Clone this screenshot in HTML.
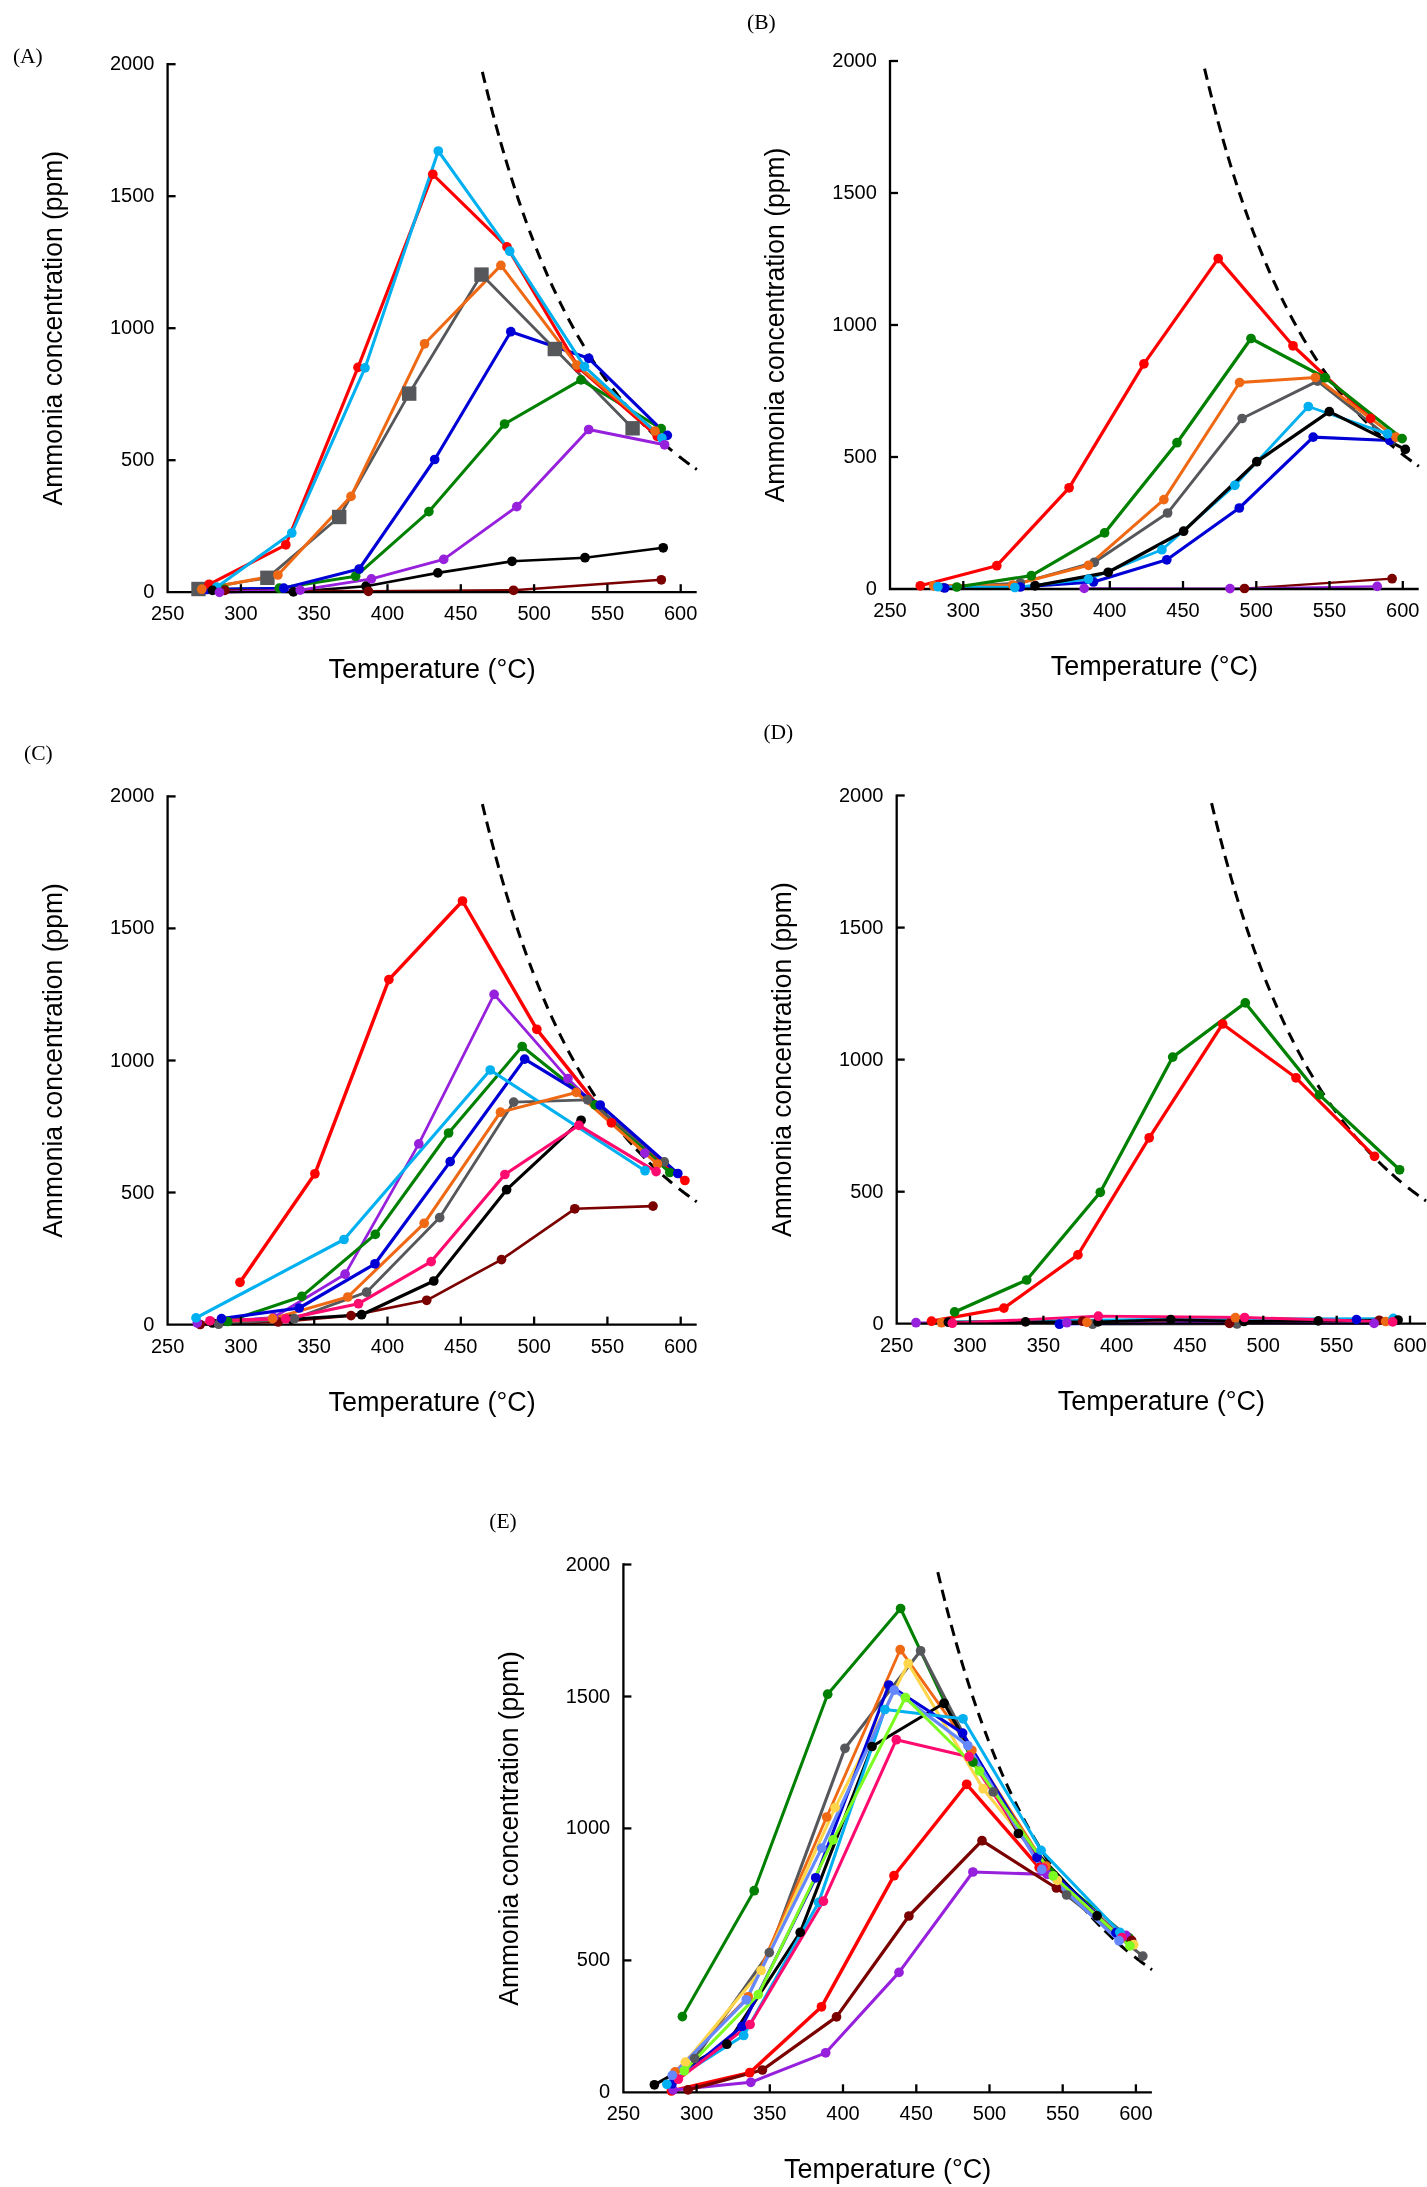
<!DOCTYPE html>
<html><head><meta charset="utf-8"><title>Ammonia concentration vs temperature</title>
<style>
html,body{margin:0;padding:0;background:#fff;}
body{width:1427px;height:2187px;overflow:hidden;}
svg{display:block;will-change:transform;}
.t{font-family:"Liberation Sans",sans-serif;font-size:20px;fill:#000;}
.ti{font-family:"Liberation Sans",sans-serif;font-size:26.8px;fill:#000;}
.pl{font-family:"Liberation Serif",serif;font-size:21.5px;fill:#000;}
</style></head><body>
<svg width="1427" height="2187" viewBox="0 0 1427 2187">
<rect width="1427" height="2187" fill="#fff"/>
<g><path d="M482.37,71.86 L484.16,79.30 L485.95,86.61 L487.73,93.80 L489.52,100.85 L491.31,107.79 L493.10,114.61 L494.88,121.31 L496.67,127.89 L498.46,134.36 L500.25,140.72 L502.03,146.97 L503.82,153.12 L505.61,159.16 L507.40,165.09 L509.18,170.93 L510.97,176.67 L512.76,182.32 L514.55,187.87 L516.33,193.32 L518.12,198.69 L519.91,203.96 L521.69,209.15 L523.48,214.26 L525.27,219.28 L527.06,224.22 L528.84,229.07 L530.63,233.85 L532.42,238.55 L534.21,243.18 L535.99,247.73 L537.78,252.20 L539.57,256.61 L541.36,260.94 L543.14,265.20 L544.93,269.40 L546.72,273.53 L548.51,277.59 L550.29,281.59 L552.08,285.53 L553.87,289.41 L555.66,293.22 L557.44,296.97 L559.23,300.67 L561.02,304.31 L562.81,307.89 L564.59,311.42 L566.38,314.89 L568.17,318.31 L569.96,321.68 L571.74,324.99 L573.53,328.26 L575.32,331.47 L577.10,334.64 L578.89,337.76 L580.68,340.83 L582.47,343.85 L584.25,346.83 L586.04,349.77 L587.83,352.66 L589.62,355.51 L591.40,358.32 L593.19,361.08 L594.98,363.80 L596.77,366.49 L598.55,369.13 L600.34,371.74 L602.13,374.31 L603.92,376.84 L605.70,379.33 L607.49,381.79 L609.28,384.21 L611.07,386.60 L612.85,388.95 L614.64,391.27 L616.43,393.55 L618.22,395.81 L620.00,398.03 L621.79,400.22 L623.58,402.37 L625.37,404.50 L627.15,406.60 L628.94,408.67 L630.73,410.71 L632.51,412.72 L634.30,414.70 L636.09,416.66 L637.88,418.59 L639.66,420.49 L641.45,422.37 L643.24,424.21 L645.03,426.04 L646.81,427.84 L648.60,429.61 L650.39,431.36 L652.18,433.09 L653.96,434.80 L655.75,436.48 L657.54,438.13 L659.33,439.77 L661.11,441.38 L662.90,442.98 L664.69,444.55 L666.48,446.10 L668.26,447.63 L670.05,449.14 L671.84,450.62 L673.63,452.09 L675.41,453.54 L677.20,454.98 L678.99,456.39 L680.78,457.78 L682.56,459.16 L684.35,460.52 L686.14,461.86 L687.92,463.18 L689.71,464.49 L691.50,465.78 L693.29,467.05 L695.07,468.31 L696.86,469.55" fill="none" stroke="#000" stroke-width="3.0" stroke-dasharray="11.40 6.70 11.40 6.70 11.10 7.00 11.50 6.80 11.50 6.80 11.20 7.60 11.20 7.40 10.80 7.50 10.90 8.30 10.60 8.60 11.30 7.90 10.80 7.80 11.30 8.40 11.00 8.30 11.50 7.60 12.50 9.20 11.90 9.60 11.80 8.90 12.40 6.10 12.40 6.10 12.40 6.20 12.40 6.10 12.40 8.70 13.20 6.90 2.10 50.00"/><path d="M198.5,589.0 L267.4,577.8 L339.2,517.0 L409.2,393.6 L481.5,274.6 L554.8,349.0 L632.6,428.3" fill="none" stroke="#56575a" stroke-width="2.85" stroke-linejoin="round"/><path d="M224.5,589.3 L279.3,588.2 L355.6,576.3 L428.9,511.6 L504.6,424.0 L581.0,379.9 L661.2,428.7" fill="none" stroke="#008000" stroke-width="3.05" stroke-linejoin="round"/><path d="M207.3,589.5 L283.8,588.2 L359.2,569.0 L434.7,459.5 L510.8,331.7 L588.7,358.3 L667.3,435.4" fill="none" stroke="#0000d6" stroke-width="3.15" stroke-linejoin="round"/><path d="M209.1,584.3 L285.8,544.8 L358.0,367.4 L432.8,174.3 L507.0,246.9 L578.7,367.8 L657.3,436.4" fill="none" stroke="#ff0000" stroke-width="3.15" stroke-linejoin="round"/><path d="M201.8,589.2 L277.9,575.0 L351.0,496.4 L424.6,343.8 L500.9,265.4 L576.8,365.1 L655.0,431.0" fill="none" stroke="#ef6914" stroke-width="3.05" stroke-linejoin="round"/><path d="M216.6,587.2 L291.8,533.0 L365.0,367.9 L438.3,151.0 L509.7,251.2 L584.5,366.6 L661.9,438.0" fill="none" stroke="#00b0f0" stroke-width="3.05" stroke-linejoin="round"/><path d="M212.5,590.4 L293.4,591.9 L366.0,586.2 L437.8,572.9 L512.0,561.3 L585.0,557.7 L663.2,547.8" fill="none" stroke="#000000" stroke-width="2.65" stroke-linejoin="round"/><path d="M224.8,590.4 L368.4,591.3 L513.5,590.3 L661.3,579.8" fill="none" stroke="#7a0000" stroke-width="2.45" stroke-linejoin="round"/><path d="M219.5,592.3 L300.2,590.1 L371.4,578.9 L443.7,559.4 L516.8,506.6 L588.7,429.5 L664.6,444.8" fill="none" stroke="#9620dc" stroke-width="2.95" stroke-linejoin="round"/><path d="M167.6,63.1 L167.6,592.2 L696.7,592.2" fill="none" stroke="#000" stroke-width="2.3"/><line x1="167.6" y1="460.2" x2="175.6" y2="460.2" stroke="#000" stroke-width="2.3"/><line x1="167.6" y1="328.2" x2="175.6" y2="328.2" stroke="#000" stroke-width="2.3"/><line x1="167.6" y1="196.2" x2="175.6" y2="196.2" stroke="#000" stroke-width="2.3"/><line x1="167.6" y1="64.2" x2="175.6" y2="64.2" stroke="#000" stroke-width="2.3"/><line x1="240.9" y1="592.2" x2="240.9" y2="584.2" stroke="#000" stroke-width="2.3"/><line x1="314.2" y1="592.2" x2="314.2" y2="584.2" stroke="#000" stroke-width="2.3"/><line x1="387.5" y1="592.2" x2="387.5" y2="584.2" stroke="#000" stroke-width="2.3"/><line x1="460.8" y1="592.2" x2="460.8" y2="584.2" stroke="#000" stroke-width="2.3"/><line x1="534.1" y1="592.2" x2="534.1" y2="584.2" stroke="#000" stroke-width="2.3"/><line x1="607.4" y1="592.2" x2="607.4" y2="584.2" stroke="#000" stroke-width="2.3"/><line x1="680.7" y1="592.2" x2="680.7" y2="584.2" stroke="#000" stroke-width="2.3"/><rect x="191.3" y="581.8" width="14.4" height="14.4" fill="#56575a"/><rect x="260.2" y="570.6" width="14.4" height="14.4" fill="#56575a"/><rect x="332.0" y="509.8" width="14.4" height="14.4" fill="#56575a"/><rect x="402.0" y="386.4" width="14.4" height="14.4" fill="#56575a"/><rect x="474.3" y="267.4" width="14.4" height="14.4" fill="#56575a"/><rect x="547.6" y="341.8" width="14.4" height="14.4" fill="#56575a"/><rect x="625.4" y="421.1" width="14.4" height="14.4" fill="#56575a"/><circle cx="224.5" cy="589.3" r="4.85" fill="#008000"/><circle cx="279.3" cy="588.2" r="4.85" fill="#008000"/><circle cx="355.6" cy="576.3" r="4.85" fill="#008000"/><circle cx="428.9" cy="511.6" r="4.85" fill="#008000"/><circle cx="504.6" cy="424.0" r="4.85" fill="#008000"/><circle cx="581.0" cy="379.9" r="4.85" fill="#008000"/><circle cx="661.2" cy="428.7" r="4.85" fill="#008000"/><circle cx="207.3" cy="589.5" r="4.85" fill="#0000d6"/><circle cx="283.8" cy="588.2" r="4.85" fill="#0000d6"/><circle cx="359.2" cy="569.0" r="4.85" fill="#0000d6"/><circle cx="434.7" cy="459.5" r="4.85" fill="#0000d6"/><circle cx="510.8" cy="331.7" r="4.85" fill="#0000d6"/><circle cx="588.7" cy="358.3" r="4.85" fill="#0000d6"/><circle cx="667.3" cy="435.4" r="4.85" fill="#0000d6"/><circle cx="209.1" cy="584.3" r="4.85" fill="#ff0000"/><circle cx="285.8" cy="544.8" r="4.85" fill="#ff0000"/><circle cx="358.0" cy="367.4" r="4.85" fill="#ff0000"/><circle cx="432.8" cy="174.3" r="4.85" fill="#ff0000"/><circle cx="507.0" cy="246.9" r="4.85" fill="#ff0000"/><circle cx="578.7" cy="367.8" r="4.85" fill="#ff0000"/><circle cx="657.3" cy="436.4" r="4.85" fill="#ff0000"/><circle cx="201.8" cy="589.2" r="4.85" fill="#ef6914"/><circle cx="277.9" cy="575.0" r="4.85" fill="#ef6914"/><circle cx="351.0" cy="496.4" r="4.85" fill="#ef6914"/><circle cx="424.6" cy="343.8" r="4.85" fill="#ef6914"/><circle cx="500.9" cy="265.4" r="4.85" fill="#ef6914"/><circle cx="576.8" cy="365.1" r="4.85" fill="#ef6914"/><circle cx="655.0" cy="431.0" r="4.85" fill="#ef6914"/><circle cx="216.6" cy="587.2" r="4.85" fill="#00b0f0"/><circle cx="291.8" cy="533.0" r="4.85" fill="#00b0f0"/><circle cx="365.0" cy="367.9" r="4.85" fill="#00b0f0"/><circle cx="438.3" cy="151.0" r="4.85" fill="#00b0f0"/><circle cx="509.7" cy="251.2" r="4.85" fill="#00b0f0"/><circle cx="584.5" cy="366.6" r="4.85" fill="#00b0f0"/><circle cx="661.9" cy="438.0" r="4.85" fill="#00b0f0"/><circle cx="212.5" cy="590.4" r="4.85" fill="#000000"/><circle cx="293.4" cy="591.9" r="4.85" fill="#000000"/><circle cx="366.0" cy="586.2" r="4.85" fill="#000000"/><circle cx="437.8" cy="572.9" r="4.85" fill="#000000"/><circle cx="512.0" cy="561.3" r="4.85" fill="#000000"/><circle cx="585.0" cy="557.7" r="4.85" fill="#000000"/><circle cx="663.2" cy="547.8" r="4.85" fill="#000000"/><circle cx="224.8" cy="590.4" r="4.85" fill="#7a0000"/><circle cx="368.4" cy="591.3" r="4.85" fill="#7a0000"/><circle cx="513.5" cy="590.3" r="4.85" fill="#7a0000"/><circle cx="661.3" cy="579.8" r="4.85" fill="#7a0000"/><circle cx="219.5" cy="592.3" r="4.85" fill="#9620dc"/><circle cx="300.2" cy="590.1" r="4.85" fill="#9620dc"/><circle cx="371.4" cy="578.9" r="4.85" fill="#9620dc"/><circle cx="443.7" cy="559.4" r="4.85" fill="#9620dc"/><circle cx="516.8" cy="506.6" r="4.85" fill="#9620dc"/><circle cx="588.7" cy="429.5" r="4.85" fill="#9620dc"/><circle cx="664.6" cy="444.8" r="4.85" fill="#9620dc"/><text x="154.4" y="598.2" text-anchor="end" class="t">0</text><text x="154.4" y="466.2" text-anchor="end" class="t">500</text><text x="154.4" y="334.2" text-anchor="end" class="t">1000</text><text x="154.4" y="202.2" text-anchor="end" class="t">1500</text><text x="154.4" y="70.2" text-anchor="end" class="t">2000</text><text x="167.6" y="620.2" text-anchor="middle" class="t">250</text><text x="240.9" y="620.2" text-anchor="middle" class="t">300</text><text x="314.2" y="620.2" text-anchor="middle" class="t">350</text><text x="387.5" y="620.2" text-anchor="middle" class="t">400</text><text x="460.8" y="620.2" text-anchor="middle" class="t">450</text><text x="534.1" y="620.2" text-anchor="middle" class="t">500</text><text x="607.4" y="620.2" text-anchor="middle" class="t">550</text><text x="680.7" y="620.2" text-anchor="middle" class="t">600</text><text x="432.2" y="678.2" text-anchor="middle" class="ti" textLength="207.3" lengthAdjust="spacingAndGlyphs">Temperature (°C)</text><text transform="translate(61.8,328.2) rotate(-90)" x="0" y="0" text-anchor="middle" class="ti" textLength="354.6" lengthAdjust="spacingAndGlyphs">Ammonia concentration (ppm)</text><text x="12.9" y="62.7" class="pl">(A)</text></g>
<g><path d="M1204.56,68.66 L1206.35,76.10 L1208.14,83.41 L1209.92,90.60 L1211.71,97.65 L1213.49,104.59 L1215.28,111.41 L1217.07,118.11 L1218.85,124.69 L1220.64,131.16 L1222.42,137.52 L1224.21,143.77 L1226.00,149.92 L1227.78,155.96 L1229.57,161.89 L1231.35,167.73 L1233.14,173.47 L1234.93,179.12 L1236.71,184.67 L1238.50,190.12 L1240.28,195.49 L1242.07,200.76 L1243.86,205.95 L1245.64,211.06 L1247.43,216.08 L1249.21,221.02 L1251.00,225.87 L1252.78,230.65 L1254.57,235.35 L1256.36,239.98 L1258.14,244.53 L1259.93,249.00 L1261.71,253.41 L1263.50,257.74 L1265.29,262.00 L1267.07,266.20 L1268.86,270.33 L1270.64,274.39 L1272.43,278.39 L1274.22,282.33 L1276.00,286.21 L1277.79,290.02 L1279.57,293.77 L1281.36,297.47 L1283.15,301.11 L1284.93,304.69 L1286.72,308.22 L1288.50,311.69 L1290.29,315.11 L1292.08,318.48 L1293.86,321.79 L1295.65,325.06 L1297.43,328.27 L1299.22,331.44 L1301.01,334.56 L1302.79,337.63 L1304.58,340.65 L1306.36,343.63 L1308.15,346.57 L1309.94,349.46 L1311.72,352.31 L1313.51,355.12 L1315.29,357.88 L1317.08,360.60 L1318.87,363.29 L1320.65,365.93 L1322.44,368.54 L1324.22,371.11 L1326.01,373.64 L1327.80,376.13 L1329.58,378.59 L1331.37,381.01 L1333.15,383.40 L1334.94,385.75 L1336.72,388.07 L1338.51,390.35 L1340.30,392.61 L1342.08,394.83 L1343.87,397.02 L1345.65,399.17 L1347.44,401.30 L1349.23,403.40 L1351.01,405.47 L1352.80,407.51 L1354.58,409.52 L1356.37,411.50 L1358.16,413.46 L1359.94,415.39 L1361.73,417.29 L1363.51,419.17 L1365.30,421.01 L1367.09,422.84 L1368.87,424.64 L1370.66,426.41 L1372.44,428.16 L1374.23,429.89 L1376.02,431.60 L1377.80,433.28 L1379.59,434.93 L1381.37,436.57 L1383.16,438.18 L1384.95,439.78 L1386.73,441.35 L1388.52,442.90 L1390.30,444.43 L1392.09,445.94 L1393.88,447.42 L1395.66,448.89 L1397.45,450.34 L1399.23,451.78 L1401.02,453.19 L1402.81,454.58 L1404.59,455.96 L1406.38,457.32 L1408.16,458.66 L1409.95,459.98 L1411.74,461.29 L1413.52,462.58 L1415.31,463.85 L1417.09,465.11 L1418.88,466.35" fill="none" stroke="#000" stroke-width="3.0" stroke-dasharray="11.40 6.70 11.40 6.70 11.10 7.00 11.50 6.80 11.50 6.80 11.20 7.60 11.20 7.40 10.80 7.50 10.90 8.30 10.60 8.60 11.30 7.90 10.80 7.80 11.30 8.40 11.00 8.30 11.50 7.60 12.50 9.20 11.90 9.60 11.80 8.90 12.40 6.10 12.40 6.10 12.40 6.20 12.40 6.10 12.40 8.70 13.20 6.90 2.10 50.00"/><path d="M1244.5,588.5 L1392.1,578.7" fill="none" stroke="#7a0000" stroke-width="2.25" stroke-linejoin="round"/><path d="M1084.2,588.4 L1230.0,588.6 L1377.2,586.4" fill="none" stroke="#9620dc" stroke-width="2.25" stroke-linejoin="round"/><path d="M943.0,587.5 L1020.3,583.0 L1094.3,562.3 L1167.6,513.0 L1242.1,418.5 L1317.5,381.1 L1392.0,440.0" fill="none" stroke="#56575a" stroke-width="2.85" stroke-linejoin="round"/><path d="M944.7,588.0 L1020.3,587.0 L1093.5,582.0 L1166.8,559.8 L1239.3,508.0 L1313.2,437.1 L1389.7,440.5" fill="none" stroke="#0000d6" stroke-width="3.15" stroke-linejoin="round"/><path d="M920.3,585.8 L996.8,565.7 L1069.1,487.8 L1143.9,363.9 L1218.2,258.6 L1293.0,345.8 L1370.7,418.4" fill="none" stroke="#ff0000" stroke-width="3.25" stroke-linejoin="round"/><path d="M933.7,585.8 L1012.8,585.0 L1088.5,565.3 L1163.9,499.6 L1239.6,382.5 L1315.4,377.5 L1396.0,437.2" fill="none" stroke="#ef6914" stroke-width="3.05" stroke-linejoin="round"/><path d="M937.9,586.7 L1014.8,587.5 L1088.5,579.1 L1161.9,549.7 L1234.9,485.3 L1308.3,406.5 L1387.5,433.8" fill="none" stroke="#00b0f0" stroke-width="2.85" stroke-linejoin="round"/><path d="M956.8,587.0 L1031.3,575.7 L1104.6,532.9 L1177.0,442.7 L1251.0,338.5 L1325.1,377.7 L1402.1,438.6" fill="none" stroke="#008000" stroke-width="3.25" stroke-linejoin="round"/><path d="M1035.0,585.8 L1108.2,572.3 L1183.6,531.2 L1256.8,461.7 L1329.3,411.6 L1405.3,449.4" fill="none" stroke="#000000" stroke-width="3.25" stroke-linejoin="round"/><path d="M890.0,59.9 L890.0,589.0 L1418.7,589.0" fill="none" stroke="#000" stroke-width="2.3"/><line x1="890.0" y1="457.0" x2="898.0" y2="457.0" stroke="#000" stroke-width="2.3"/><line x1="890.0" y1="325.0" x2="898.0" y2="325.0" stroke="#000" stroke-width="2.3"/><line x1="890.0" y1="193.0" x2="898.0" y2="193.0" stroke="#000" stroke-width="2.3"/><line x1="890.0" y1="61.0" x2="898.0" y2="61.0" stroke="#000" stroke-width="2.3"/><line x1="963.3" y1="589.0" x2="963.3" y2="581.0" stroke="#000" stroke-width="2.3"/><line x1="1036.5" y1="589.0" x2="1036.5" y2="581.0" stroke="#000" stroke-width="2.3"/><line x1="1109.8" y1="589.0" x2="1109.8" y2="581.0" stroke="#000" stroke-width="2.3"/><line x1="1183.0" y1="589.0" x2="1183.0" y2="581.0" stroke="#000" stroke-width="2.3"/><line x1="1256.3" y1="589.0" x2="1256.3" y2="581.0" stroke="#000" stroke-width="2.3"/><line x1="1329.5" y1="589.0" x2="1329.5" y2="581.0" stroke="#000" stroke-width="2.3"/><line x1="1402.8" y1="589.0" x2="1402.8" y2="581.0" stroke="#000" stroke-width="2.3"/><circle cx="1244.5" cy="588.5" r="4.85" fill="#7a0000"/><circle cx="1392.1" cy="578.7" r="4.85" fill="#7a0000"/><circle cx="1084.2" cy="588.4" r="4.85" fill="#9620dc"/><circle cx="1230.0" cy="588.6" r="4.85" fill="#9620dc"/><circle cx="1377.2" cy="586.4" r="4.85" fill="#9620dc"/><circle cx="943.0" cy="587.5" r="4.85" fill="#56575a"/><circle cx="1020.3" cy="583.0" r="4.85" fill="#56575a"/><circle cx="1094.3" cy="562.3" r="4.85" fill="#56575a"/><circle cx="1167.6" cy="513.0" r="4.85" fill="#56575a"/><circle cx="1242.1" cy="418.5" r="4.85" fill="#56575a"/><circle cx="1317.5" cy="381.1" r="4.85" fill="#56575a"/><circle cx="1392.0" cy="440.0" r="4.85" fill="#56575a"/><circle cx="944.7" cy="588.0" r="4.85" fill="#0000d6"/><circle cx="1020.3" cy="587.0" r="4.85" fill="#0000d6"/><circle cx="1093.5" cy="582.0" r="4.85" fill="#0000d6"/><circle cx="1166.8" cy="559.8" r="4.85" fill="#0000d6"/><circle cx="1239.3" cy="508.0" r="4.85" fill="#0000d6"/><circle cx="1313.2" cy="437.1" r="4.85" fill="#0000d6"/><circle cx="1389.7" cy="440.5" r="4.85" fill="#0000d6"/><circle cx="920.3" cy="585.8" r="4.85" fill="#ff0000"/><circle cx="996.8" cy="565.7" r="4.85" fill="#ff0000"/><circle cx="1069.1" cy="487.8" r="4.85" fill="#ff0000"/><circle cx="1143.9" cy="363.9" r="4.85" fill="#ff0000"/><circle cx="1218.2" cy="258.6" r="4.85" fill="#ff0000"/><circle cx="1293.0" cy="345.8" r="4.85" fill="#ff0000"/><circle cx="1370.7" cy="418.4" r="4.85" fill="#ff0000"/><circle cx="933.7" cy="585.8" r="4.85" fill="#ef6914"/><circle cx="1012.8" cy="585.0" r="4.85" fill="#ef6914"/><circle cx="1088.5" cy="565.3" r="4.85" fill="#ef6914"/><circle cx="1163.9" cy="499.6" r="4.85" fill="#ef6914"/><circle cx="1239.6" cy="382.5" r="4.85" fill="#ef6914"/><circle cx="1315.4" cy="377.5" r="4.85" fill="#ef6914"/><circle cx="1396.0" cy="437.2" r="4.85" fill="#ef6914"/><circle cx="937.9" cy="586.7" r="4.85" fill="#00b0f0"/><circle cx="1014.8" cy="587.5" r="4.85" fill="#00b0f0"/><circle cx="1088.5" cy="579.1" r="4.85" fill="#00b0f0"/><circle cx="1161.9" cy="549.7" r="4.85" fill="#00b0f0"/><circle cx="1234.9" cy="485.3" r="4.85" fill="#00b0f0"/><circle cx="1308.3" cy="406.5" r="4.85" fill="#00b0f0"/><circle cx="1387.5" cy="433.8" r="4.85" fill="#00b0f0"/><circle cx="956.8" cy="587.0" r="4.85" fill="#008000"/><circle cx="1031.3" cy="575.7" r="4.85" fill="#008000"/><circle cx="1104.6" cy="532.9" r="4.85" fill="#008000"/><circle cx="1177.0" cy="442.7" r="4.85" fill="#008000"/><circle cx="1251.0" cy="338.5" r="4.85" fill="#008000"/><circle cx="1325.1" cy="377.7" r="4.85" fill="#008000"/><circle cx="1402.1" cy="438.6" r="4.85" fill="#008000"/><circle cx="1035.0" cy="585.8" r="4.85" fill="#000000"/><circle cx="1108.2" cy="572.3" r="4.85" fill="#000000"/><circle cx="1183.6" cy="531.2" r="4.85" fill="#000000"/><circle cx="1256.8" cy="461.7" r="4.85" fill="#000000"/><circle cx="1329.3" cy="411.6" r="4.85" fill="#000000"/><circle cx="1405.3" cy="449.4" r="4.85" fill="#000000"/><text x="876.8" y="595.0" text-anchor="end" class="t">0</text><text x="876.8" y="463.0" text-anchor="end" class="t">500</text><text x="876.8" y="331.0" text-anchor="end" class="t">1000</text><text x="876.8" y="199.0" text-anchor="end" class="t">1500</text><text x="876.8" y="67.0" text-anchor="end" class="t">2000</text><text x="890.0" y="617.0" text-anchor="middle" class="t">250</text><text x="963.3" y="617.0" text-anchor="middle" class="t">300</text><text x="1036.5" y="617.0" text-anchor="middle" class="t">350</text><text x="1109.8" y="617.0" text-anchor="middle" class="t">400</text><text x="1183.0" y="617.0" text-anchor="middle" class="t">450</text><text x="1256.3" y="617.0" text-anchor="middle" class="t">500</text><text x="1329.5" y="617.0" text-anchor="middle" class="t">550</text><text x="1402.8" y="617.0" text-anchor="middle" class="t">600</text><text x="1154.4" y="675.0" text-anchor="middle" class="ti" textLength="207.3" lengthAdjust="spacingAndGlyphs">Temperature (°C)</text><text transform="translate(784.2,325.0) rotate(-90)" x="0" y="0" text-anchor="middle" class="ti" textLength="354.6" lengthAdjust="spacingAndGlyphs">Ammonia concentration (ppm)</text><text x="747.1" y="28.7" class="pl">(B)</text></g>
<g><path d="M482.37,804.06 L484.16,811.50 L485.95,818.82 L487.73,826.01 L489.52,833.07 L491.31,840.01 L493.10,846.83 L494.88,853.53 L496.67,860.11 L498.46,866.59 L500.25,872.95 L502.03,879.20 L503.82,885.35 L505.61,891.39 L507.40,897.33 L509.18,903.17 L510.97,908.92 L512.76,914.56 L514.55,920.11 L516.33,925.57 L518.12,930.94 L519.91,936.22 L521.69,941.41 L523.48,946.52 L525.27,951.54 L527.06,956.48 L528.84,961.34 L530.63,966.12 L532.42,970.82 L534.21,975.44 L535.99,980.00 L537.78,984.47 L539.57,988.88 L541.36,993.21 L543.14,997.48 L544.93,1001.68 L546.72,1005.81 L548.51,1009.87 L550.29,1013.88 L552.08,1017.81 L553.87,1021.69 L555.66,1025.51 L557.44,1029.26 L559.23,1032.96 L561.02,1036.60 L562.81,1040.18 L564.59,1043.71 L566.38,1047.19 L568.17,1050.61 L569.96,1053.98 L571.74,1057.29 L573.53,1060.56 L575.32,1063.77 L577.10,1066.94 L578.89,1070.06 L580.68,1073.13 L582.47,1076.16 L584.25,1079.14 L586.04,1082.08 L587.83,1084.97 L589.62,1087.82 L591.40,1090.63 L593.19,1093.39 L594.98,1096.12 L596.77,1098.80 L598.55,1101.45 L600.34,1104.05 L602.13,1106.62 L603.92,1109.15 L605.70,1111.65 L607.49,1114.11 L609.28,1116.53 L611.07,1118.92 L612.85,1121.27 L614.64,1123.59 L616.43,1125.88 L618.22,1128.13 L620.00,1130.35 L621.79,1132.54 L623.58,1134.70 L625.37,1136.83 L627.15,1138.93 L628.94,1141.00 L630.73,1143.04 L632.51,1145.05 L634.30,1147.04 L636.09,1148.99 L637.88,1150.92 L639.66,1152.82 L641.45,1154.70 L643.24,1156.55 L645.03,1158.38 L646.81,1160.18 L648.60,1161.95 L650.39,1163.70 L652.18,1165.43 L653.96,1167.14 L655.75,1168.82 L657.54,1170.48 L659.33,1172.11 L661.11,1173.73 L662.90,1175.32 L664.69,1176.89 L666.48,1178.44 L668.26,1179.97 L670.05,1181.48 L671.84,1182.97 L673.63,1184.44 L675.41,1185.89 L677.20,1187.32 L678.99,1188.74 L680.78,1190.13 L682.56,1191.51 L684.35,1192.87 L686.14,1194.21 L687.92,1195.53 L689.71,1196.84 L691.50,1198.13 L693.29,1199.40 L695.07,1200.66 L696.86,1201.90" fill="none" stroke="#000" stroke-width="3.0" stroke-dasharray="11.40 6.70 11.40 6.70 11.10 7.00 11.50 6.80 11.50 6.80 11.20 7.60 11.20 7.40 10.80 7.50 10.90 8.30 10.60 8.60 11.30 7.90 10.80 7.80 11.30 8.40 11.00 8.30 11.50 7.60 12.50 9.20 11.90 9.60 11.80 8.90 12.40 6.10 12.40 6.10 12.40 6.20 12.40 6.10 12.40 8.70 13.20 6.90 2.10 50.00"/><path d="M240.0,1282.3 L314.9,1173.8 L388.9,979.6 L462.5,901.0 L536.8,1029.3 L611.4,1122.8 L684.9,1180.5" fill="none" stroke="#ff0000" stroke-width="3.45" stroke-linejoin="round"/><path d="M200.2,1324.5 L278.2,1322.0 L351.0,1315.6 L426.7,1300.3 L501.5,1259.6 L574.8,1208.8 L653.0,1206.1" fill="none" stroke="#7a0000" stroke-width="2.65" stroke-linejoin="round"/><path d="M212.5,1323.0 L291.1,1319.3 L361.6,1314.7 L433.8,1281.0 L506.6,1189.7 L581.1,1120.3" fill="none" stroke="#000000" stroke-width="3.15" stroke-linejoin="round"/><path d="M197.3,1323.0 L273.5,1317.5 L345.1,1274.2 L418.8,1143.9 L494.1,994.4 L567.9,1078.7 L644.8,1153.1" fill="none" stroke="#9620dc" stroke-width="2.75" stroke-linejoin="round"/><path d="M227.7,1321.5 L301.8,1296.4 L375.3,1234.4 L448.6,1133.0 L522.2,1046.5 L595.0,1104.8 L669.8,1172.5" fill="none" stroke="#008000" stroke-width="3.15" stroke-linejoin="round"/><path d="M218.6,1324.2 L294.3,1318.7 L366.6,1292.2 L439.7,1217.6 L513.7,1102.1 L587.6,1099.8 L664.3,1161.9" fill="none" stroke="#56575a" stroke-width="2.85" stroke-linejoin="round"/><path d="M221.5,1318.6 L299.2,1308.0 L375.0,1263.8 L450.2,1161.6 L524.7,1059.1 L600.2,1105.0 L677.8,1173.5" fill="none" stroke="#0000d6" stroke-width="3.25" stroke-linejoin="round"/><path d="M196.0,1317.9 L344.0,1239.5 L490.2,1070.0 L645.0,1170.7" fill="none" stroke="#00b0f0" stroke-width="3.15" stroke-linejoin="round"/><path d="M205.0,1322.5 L272.6,1318.6 L347.8,1297.0 L424.2,1223.3 L500.5,1112.2 L576.2,1092.4 L657.4,1164.0" fill="none" stroke="#ef6914" stroke-width="3.05" stroke-linejoin="round"/><path d="M210.0,1320.8 L285.7,1318.9 L358.5,1303.7 L431.2,1261.6 L504.9,1174.5 L578.9,1125.3 L656.1,1171.6" fill="none" stroke="#ff0a6e" stroke-width="3.15" stroke-linejoin="round"/><path d="M167.6,795.2 L167.6,1324.6 L696.7,1324.6" fill="none" stroke="#000" stroke-width="2.3"/><line x1="167.6" y1="1192.5" x2="175.6" y2="1192.5" stroke="#000" stroke-width="2.3"/><line x1="167.6" y1="1060.5" x2="175.6" y2="1060.5" stroke="#000" stroke-width="2.3"/><line x1="167.6" y1="928.4" x2="175.6" y2="928.4" stroke="#000" stroke-width="2.3"/><line x1="167.6" y1="796.4" x2="175.6" y2="796.4" stroke="#000" stroke-width="2.3"/><line x1="240.9" y1="1324.6" x2="240.9" y2="1316.6" stroke="#000" stroke-width="2.3"/><line x1="314.2" y1="1324.6" x2="314.2" y2="1316.6" stroke="#000" stroke-width="2.3"/><line x1="387.5" y1="1324.6" x2="387.5" y2="1316.6" stroke="#000" stroke-width="2.3"/><line x1="460.8" y1="1324.6" x2="460.8" y2="1316.6" stroke="#000" stroke-width="2.3"/><line x1="534.1" y1="1324.6" x2="534.1" y2="1316.6" stroke="#000" stroke-width="2.3"/><line x1="607.4" y1="1324.6" x2="607.4" y2="1316.6" stroke="#000" stroke-width="2.3"/><line x1="680.7" y1="1324.6" x2="680.7" y2="1316.6" stroke="#000" stroke-width="2.3"/><circle cx="240.0" cy="1282.3" r="4.85" fill="#ff0000"/><circle cx="314.9" cy="1173.8" r="4.85" fill="#ff0000"/><circle cx="388.9" cy="979.6" r="4.85" fill="#ff0000"/><circle cx="462.5" cy="901.0" r="4.85" fill="#ff0000"/><circle cx="536.8" cy="1029.3" r="4.85" fill="#ff0000"/><circle cx="611.4" cy="1122.8" r="4.85" fill="#ff0000"/><circle cx="684.9" cy="1180.5" r="4.85" fill="#ff0000"/><circle cx="200.2" cy="1324.5" r="4.85" fill="#7a0000"/><circle cx="278.2" cy="1322.0" r="4.85" fill="#7a0000"/><circle cx="351.0" cy="1315.6" r="4.85" fill="#7a0000"/><circle cx="426.7" cy="1300.3" r="4.85" fill="#7a0000"/><circle cx="501.5" cy="1259.6" r="4.85" fill="#7a0000"/><circle cx="574.8" cy="1208.8" r="4.85" fill="#7a0000"/><circle cx="653.0" cy="1206.1" r="4.85" fill="#7a0000"/><circle cx="212.5" cy="1323.0" r="4.85" fill="#000000"/><circle cx="291.1" cy="1319.3" r="4.85" fill="#000000"/><circle cx="361.6" cy="1314.7" r="4.85" fill="#000000"/><circle cx="433.8" cy="1281.0" r="4.85" fill="#000000"/><circle cx="506.6" cy="1189.7" r="4.85" fill="#000000"/><circle cx="581.1" cy="1120.3" r="4.85" fill="#000000"/><circle cx="197.3" cy="1323.0" r="4.85" fill="#9620dc"/><circle cx="273.5" cy="1317.5" r="4.85" fill="#9620dc"/><circle cx="345.1" cy="1274.2" r="4.85" fill="#9620dc"/><circle cx="418.8" cy="1143.9" r="4.85" fill="#9620dc"/><circle cx="494.1" cy="994.4" r="4.85" fill="#9620dc"/><circle cx="567.9" cy="1078.7" r="4.85" fill="#9620dc"/><circle cx="644.8" cy="1153.1" r="4.85" fill="#9620dc"/><circle cx="227.7" cy="1321.5" r="4.85" fill="#008000"/><circle cx="301.8" cy="1296.4" r="4.85" fill="#008000"/><circle cx="375.3" cy="1234.4" r="4.85" fill="#008000"/><circle cx="448.6" cy="1133.0" r="4.85" fill="#008000"/><circle cx="522.2" cy="1046.5" r="4.85" fill="#008000"/><circle cx="595.0" cy="1104.8" r="4.85" fill="#008000"/><circle cx="669.8" cy="1172.5" r="4.85" fill="#008000"/><circle cx="218.6" cy="1324.2" r="4.85" fill="#56575a"/><circle cx="294.3" cy="1318.7" r="4.85" fill="#56575a"/><circle cx="366.6" cy="1292.2" r="4.85" fill="#56575a"/><circle cx="439.7" cy="1217.6" r="4.85" fill="#56575a"/><circle cx="513.7" cy="1102.1" r="4.85" fill="#56575a"/><circle cx="587.6" cy="1099.8" r="4.85" fill="#56575a"/><circle cx="664.3" cy="1161.9" r="4.85" fill="#56575a"/><circle cx="221.5" cy="1318.6" r="4.85" fill="#0000d6"/><circle cx="299.2" cy="1308.0" r="4.85" fill="#0000d6"/><circle cx="375.0" cy="1263.8" r="4.85" fill="#0000d6"/><circle cx="450.2" cy="1161.6" r="4.85" fill="#0000d6"/><circle cx="524.7" cy="1059.1" r="4.85" fill="#0000d6"/><circle cx="600.2" cy="1105.0" r="4.85" fill="#0000d6"/><circle cx="677.8" cy="1173.5" r="4.85" fill="#0000d6"/><circle cx="196.0" cy="1317.9" r="4.85" fill="#00b0f0"/><circle cx="344.0" cy="1239.5" r="4.85" fill="#00b0f0"/><circle cx="490.2" cy="1070.0" r="4.85" fill="#00b0f0"/><circle cx="645.0" cy="1170.7" r="4.85" fill="#00b0f0"/><circle cx="272.6" cy="1318.6" r="4.85" fill="#ef6914"/><circle cx="347.8" cy="1297.0" r="4.85" fill="#ef6914"/><circle cx="424.2" cy="1223.3" r="4.85" fill="#ef6914"/><circle cx="500.5" cy="1112.2" r="4.85" fill="#ef6914"/><circle cx="576.2" cy="1092.4" r="4.85" fill="#ef6914"/><circle cx="657.4" cy="1164.0" r="4.85" fill="#ef6914"/><circle cx="210.0" cy="1320.8" r="4.85" fill="#ff0a6e"/><circle cx="285.7" cy="1318.9" r="4.85" fill="#ff0a6e"/><circle cx="358.5" cy="1303.7" r="4.85" fill="#ff0a6e"/><circle cx="431.2" cy="1261.6" r="4.85" fill="#ff0a6e"/><circle cx="504.9" cy="1174.5" r="4.85" fill="#ff0a6e"/><circle cx="578.9" cy="1125.3" r="4.85" fill="#ff0a6e"/><circle cx="656.1" cy="1171.6" r="4.85" fill="#ff0a6e"/><text x="154.4" y="1330.6" text-anchor="end" class="t">0</text><text x="154.4" y="1198.5" text-anchor="end" class="t">500</text><text x="154.4" y="1066.5" text-anchor="end" class="t">1000</text><text x="154.4" y="934.4" text-anchor="end" class="t">1500</text><text x="154.4" y="802.4" text-anchor="end" class="t">2000</text><text x="167.6" y="1352.6" text-anchor="middle" class="t">250</text><text x="240.9" y="1352.6" text-anchor="middle" class="t">300</text><text x="314.2" y="1352.6" text-anchor="middle" class="t">350</text><text x="387.5" y="1352.6" text-anchor="middle" class="t">400</text><text x="460.8" y="1352.6" text-anchor="middle" class="t">450</text><text x="534.1" y="1352.6" text-anchor="middle" class="t">500</text><text x="607.4" y="1352.6" text-anchor="middle" class="t">550</text><text x="680.7" y="1352.6" text-anchor="middle" class="t">600</text><text x="432.2" y="1410.6" text-anchor="middle" class="ti" textLength="207.3" lengthAdjust="spacingAndGlyphs">Temperature (°C)</text><text transform="translate(61.8,1060.5) rotate(-90)" x="0" y="0" text-anchor="middle" class="ti" textLength="354.6" lengthAdjust="spacingAndGlyphs">Ammonia concentration (ppm)</text><text x="24.1" y="759.9" class="pl">(C)</text></g>
<g><path d="M1211.58,803.16 L1213.37,810.60 L1215.16,817.92 L1216.94,825.11 L1218.73,832.17 L1220.52,839.11 L1222.31,845.93 L1224.10,852.63 L1225.88,859.21 L1227.67,865.69 L1229.46,872.05 L1231.25,878.30 L1233.04,884.45 L1234.82,890.49 L1236.61,896.43 L1238.40,902.27 L1240.19,908.02 L1241.98,913.66 L1243.76,919.21 L1245.55,924.67 L1247.34,930.04 L1249.13,935.32 L1250.92,940.51 L1252.70,945.62 L1254.49,950.64 L1256.28,955.58 L1258.07,960.44 L1259.86,965.22 L1261.64,969.92 L1263.43,974.54 L1265.22,979.10 L1267.01,983.57 L1268.80,987.98 L1270.58,992.31 L1272.37,996.58 L1274.16,1000.78 L1275.95,1004.91 L1277.74,1008.97 L1279.52,1012.98 L1281.31,1016.91 L1283.10,1020.79 L1284.89,1024.61 L1286.68,1028.36 L1288.46,1032.06 L1290.25,1035.70 L1292.04,1039.28 L1293.83,1042.81 L1295.62,1046.29 L1297.40,1049.71 L1299.19,1053.08 L1300.98,1056.39 L1302.77,1059.66 L1304.56,1062.87 L1306.34,1066.04 L1308.13,1069.16 L1309.92,1072.23 L1311.71,1075.26 L1313.50,1078.24 L1315.28,1081.18 L1317.07,1084.07 L1318.86,1086.92 L1320.65,1089.73 L1322.44,1092.49 L1324.22,1095.22 L1326.01,1097.90 L1327.80,1100.55 L1329.59,1103.15 L1331.38,1105.72 L1333.17,1108.25 L1334.95,1110.75 L1336.74,1113.21 L1338.53,1115.63 L1340.32,1118.02 L1342.11,1120.37 L1343.89,1122.69 L1345.68,1124.98 L1347.47,1127.23 L1349.26,1129.45 L1351.05,1131.64 L1352.83,1133.80 L1354.62,1135.93 L1356.41,1138.03 L1358.20,1140.10 L1359.99,1142.14 L1361.77,1144.15 L1363.56,1146.14 L1365.35,1148.09 L1367.14,1150.02 L1368.93,1151.92 L1370.71,1153.80 L1372.50,1155.65 L1374.29,1157.48 L1376.08,1159.28 L1377.87,1161.05 L1379.65,1162.80 L1381.44,1164.53 L1383.23,1166.24 L1385.02,1167.92 L1386.81,1169.58 L1388.59,1171.21 L1390.38,1172.83 L1392.17,1174.42 L1393.96,1175.99 L1395.75,1177.54 L1397.53,1179.07 L1399.32,1180.58 L1401.11,1182.07 L1402.90,1183.54 L1404.69,1184.99 L1406.47,1186.42 L1408.26,1187.84 L1410.05,1189.23 L1411.84,1190.61 L1413.63,1191.97 L1415.41,1193.31 L1417.20,1194.63 L1418.99,1195.94 L1420.78,1197.23 L1422.57,1198.50 L1424.35,1199.76 L1426.14,1201.00" fill="none" stroke="#000" stroke-width="3.0" stroke-dasharray="11.40 6.70 11.40 6.70 11.10 7.00 11.50 6.80 11.50 6.80 11.20 7.60 11.20 7.40 10.80 7.50 10.90 8.30 10.60 8.60 11.30 7.90 10.80 7.80 11.30 8.40 11.00 8.30 11.50 7.60 12.50 9.20 11.90 9.60 11.80 8.90 12.40 6.10 12.40 6.10 12.40 6.20 12.40 6.10 12.40 8.70 13.20 6.90 2.10 50.00"/><path d="M1092.6,1324.2 L1237.0,1324.0" fill="none" stroke="#56575a" stroke-width="2.45" stroke-linejoin="round"/><path d="M1059.4,1324.2 L1356.5,1319.6" fill="none" stroke="#0000d6" stroke-width="2.45" stroke-linejoin="round"/><path d="M1082.6,1321.2 L1229.5,1323.4 L1379.2,1320.3" fill="none" stroke="#7a0000" stroke-width="2.45" stroke-linejoin="round"/><path d="M916.0,1322.7 L1066.8,1322.7 L1374.1,1323.4" fill="none" stroke="#9620dc" stroke-width="2.45" stroke-linejoin="round"/><path d="M941.5,1322.7 L1087.0,1322.3 L1235.4,1317.7 L1385.7,1321.5" fill="none" stroke="#ef6914" stroke-width="2.45" stroke-linejoin="round"/><path d="M946.0,1322.0 L1170.0,1319.0 L1393.3,1318.4" fill="none" stroke="#00b0f0" stroke-width="2.45" stroke-linejoin="round"/><path d="M948.4,1322.2 L1025.5,1321.9 L1098.0,1321.9 L1170.8,1319.6 L1244.0,1321.5 L1318.3,1320.9 L1398.1,1320.0" fill="none" stroke="#000000" stroke-width="2.85" stroke-linejoin="round"/><path d="M952.3,1323.2 L1098.3,1316.2 L1244.6,1317.5 L1392.7,1321.9" fill="none" stroke="#ff0a6e" stroke-width="2.85" stroke-linejoin="round"/><path d="M931.5,1321.2 L1003.9,1308.1 L1077.9,1254.9 L1149.2,1137.8 L1222.6,1024.0 L1296.0,1077.8 L1374.5,1156.3" fill="none" stroke="#ff0000" stroke-width="3.25" stroke-linejoin="round"/><path d="M954.6,1311.9 L1026.7,1280.0 L1100.3,1192.3 L1172.7,1057.1 L1245.3,1002.9 L1319.4,1094.9 L1399.6,1169.8" fill="none" stroke="#008000" stroke-width="3.25" stroke-linejoin="round"/><path d="M896.7,794.4 L896.7,1323.7 L1426.0,1323.7" fill="none" stroke="#000" stroke-width="2.3"/><line x1="896.7" y1="1191.7" x2="904.7" y2="1191.7" stroke="#000" stroke-width="2.3"/><line x1="896.7" y1="1059.6" x2="904.7" y2="1059.6" stroke="#000" stroke-width="2.3"/><line x1="896.7" y1="927.6" x2="904.7" y2="927.6" stroke="#000" stroke-width="2.3"/><line x1="896.7" y1="795.5" x2="904.7" y2="795.5" stroke="#000" stroke-width="2.3"/><line x1="970.0" y1="1323.7" x2="970.0" y2="1315.7" stroke="#000" stroke-width="2.3"/><line x1="1043.4" y1="1323.7" x2="1043.4" y2="1315.7" stroke="#000" stroke-width="2.3"/><line x1="1116.7" y1="1323.7" x2="1116.7" y2="1315.7" stroke="#000" stroke-width="2.3"/><line x1="1190.0" y1="1323.7" x2="1190.0" y2="1315.7" stroke="#000" stroke-width="2.3"/><line x1="1263.3" y1="1323.7" x2="1263.3" y2="1315.7" stroke="#000" stroke-width="2.3"/><line x1="1336.7" y1="1323.7" x2="1336.7" y2="1315.7" stroke="#000" stroke-width="2.3"/><line x1="1410.0" y1="1323.7" x2="1410.0" y2="1315.7" stroke="#000" stroke-width="2.3"/><circle cx="1092.6" cy="1324.2" r="4.85" fill="#56575a"/><circle cx="1237.0" cy="1324.0" r="4.85" fill="#56575a"/><circle cx="1059.4" cy="1324.2" r="4.85" fill="#0000d6"/><circle cx="1356.5" cy="1319.6" r="4.85" fill="#0000d6"/><circle cx="1082.6" cy="1321.2" r="4.85" fill="#7a0000"/><circle cx="1229.5" cy="1323.4" r="4.85" fill="#7a0000"/><circle cx="1379.2" cy="1320.3" r="4.85" fill="#7a0000"/><circle cx="916.0" cy="1322.7" r="4.85" fill="#9620dc"/><circle cx="1066.8" cy="1322.7" r="4.85" fill="#9620dc"/><circle cx="1374.1" cy="1323.4" r="4.85" fill="#9620dc"/><circle cx="941.5" cy="1322.7" r="4.85" fill="#ef6914"/><circle cx="1087.0" cy="1322.3" r="4.85" fill="#ef6914"/><circle cx="1235.4" cy="1317.7" r="4.85" fill="#ef6914"/><circle cx="1385.7" cy="1321.5" r="4.85" fill="#ef6914"/><circle cx="1393.3" cy="1318.4" r="4.85" fill="#00b0f0"/><circle cx="948.4" cy="1322.2" r="4.85" fill="#000000"/><circle cx="1025.5" cy="1321.9" r="4.85" fill="#000000"/><circle cx="1098.0" cy="1321.9" r="4.85" fill="#000000"/><circle cx="1170.8" cy="1319.6" r="4.85" fill="#000000"/><circle cx="1244.0" cy="1321.5" r="4.85" fill="#000000"/><circle cx="1318.3" cy="1320.9" r="4.85" fill="#000000"/><circle cx="1398.1" cy="1320.0" r="4.85" fill="#000000"/><circle cx="952.3" cy="1323.2" r="4.85" fill="#ff0a6e"/><circle cx="1098.3" cy="1316.2" r="4.85" fill="#ff0a6e"/><circle cx="1244.6" cy="1317.5" r="4.85" fill="#ff0a6e"/><circle cx="1392.7" cy="1321.9" r="4.85" fill="#ff0a6e"/><circle cx="931.5" cy="1321.2" r="4.85" fill="#ff0000"/><circle cx="1003.9" cy="1308.1" r="4.85" fill="#ff0000"/><circle cx="1077.9" cy="1254.9" r="4.85" fill="#ff0000"/><circle cx="1149.2" cy="1137.8" r="4.85" fill="#ff0000"/><circle cx="1222.6" cy="1024.0" r="4.85" fill="#ff0000"/><circle cx="1296.0" cy="1077.8" r="4.85" fill="#ff0000"/><circle cx="1374.5" cy="1156.3" r="4.85" fill="#ff0000"/><circle cx="954.6" cy="1311.9" r="4.85" fill="#008000"/><circle cx="1026.7" cy="1280.0" r="4.85" fill="#008000"/><circle cx="1100.3" cy="1192.3" r="4.85" fill="#008000"/><circle cx="1172.7" cy="1057.1" r="4.85" fill="#008000"/><circle cx="1245.3" cy="1002.9" r="4.85" fill="#008000"/><circle cx="1319.4" cy="1094.9" r="4.85" fill="#008000"/><circle cx="1399.6" cy="1169.8" r="4.85" fill="#008000"/><text x="883.5" y="1329.7" text-anchor="end" class="t">0</text><text x="883.5" y="1197.7" text-anchor="end" class="t">500</text><text x="883.5" y="1065.6" text-anchor="end" class="t">1000</text><text x="883.5" y="933.6" text-anchor="end" class="t">1500</text><text x="883.5" y="801.5" text-anchor="end" class="t">2000</text><text x="896.7" y="1351.7" text-anchor="middle" class="t">250</text><text x="970.0" y="1351.7" text-anchor="middle" class="t">300</text><text x="1043.4" y="1351.7" text-anchor="middle" class="t">350</text><text x="1116.7" y="1351.7" text-anchor="middle" class="t">400</text><text x="1190.0" y="1351.7" text-anchor="middle" class="t">450</text><text x="1263.3" y="1351.7" text-anchor="middle" class="t">500</text><text x="1336.7" y="1351.7" text-anchor="middle" class="t">550</text><text x="1410.0" y="1351.7" text-anchor="middle" class="t">600</text><text x="1161.3" y="1409.7" text-anchor="middle" class="ti" textLength="207.3" lengthAdjust="spacingAndGlyphs">Temperature (°C)</text><text transform="translate(790.9,1059.6) rotate(-90)" x="0" y="0" text-anchor="middle" class="ti" textLength="354.6" lengthAdjust="spacingAndGlyphs">Ammonia concentration (ppm)</text><text x="763.4" y="739.4" class="pl">(D)</text></g>
<g><path d="M937.79,1572.15 L939.57,1579.59 L941.36,1586.90 L943.14,1594.08 L944.93,1601.14 L946.71,1608.07 L948.50,1614.89 L950.28,1621.59 L952.07,1628.17 L953.85,1634.63 L955.64,1640.99 L957.42,1647.24 L959.21,1653.38 L960.99,1659.42 L962.78,1665.36 L964.56,1671.19 L966.35,1676.93 L968.13,1682.57 L969.92,1688.12 L971.70,1693.57 L973.49,1698.94 L975.27,1704.21 L977.06,1709.40 L978.85,1714.50 L980.63,1719.52 L982.42,1724.46 L984.20,1729.31 L985.99,1734.09 L987.77,1738.79 L989.56,1743.41 L991.34,1747.96 L993.13,1752.43 L994.91,1756.83 L996.70,1761.16 L998.48,1765.43 L1000.27,1769.62 L1002.05,1773.75 L1003.84,1777.81 L1005.62,1781.81 L1007.41,1785.75 L1009.19,1789.62 L1010.98,1793.43 L1012.76,1797.19 L1014.55,1800.88 L1016.34,1804.52 L1018.12,1808.10 L1019.91,1811.63 L1021.69,1815.10 L1023.48,1818.51 L1025.26,1821.88 L1027.05,1825.19 L1028.83,1828.46 L1030.62,1831.67 L1032.40,1834.84 L1034.19,1837.95 L1035.97,1841.02 L1037.76,1844.05 L1039.54,1847.03 L1041.33,1849.96 L1043.11,1852.85 L1044.90,1855.70 L1046.68,1858.50 L1048.47,1861.27 L1050.25,1863.99 L1052.04,1866.67 L1053.82,1869.32 L1055.61,1871.92 L1057.40,1874.49 L1059.18,1877.02 L1060.97,1879.51 L1062.75,1881.97 L1064.54,1884.39 L1066.32,1886.77 L1068.11,1889.12 L1069.89,1891.44 L1071.68,1893.73 L1073.46,1895.98 L1075.25,1898.20 L1077.03,1900.39 L1078.82,1902.55 L1080.60,1904.67 L1082.39,1906.77 L1084.17,1908.84 L1085.96,1910.88 L1087.74,1912.89 L1089.53,1914.87 L1091.31,1916.83 L1093.10,1918.75 L1094.89,1920.65 L1096.67,1922.53 L1098.46,1924.38 L1100.24,1926.20 L1102.03,1928.00 L1103.81,1929.78 L1105.60,1931.53 L1107.38,1933.25 L1109.17,1934.96 L1110.95,1936.63 L1112.74,1938.29 L1114.52,1939.93 L1116.31,1941.54 L1118.09,1943.13 L1119.88,1944.70 L1121.66,1946.25 L1123.45,1947.78 L1125.23,1949.29 L1127.02,1950.78 L1128.80,1952.25 L1130.59,1953.70 L1132.37,1955.13 L1134.16,1956.54 L1135.95,1957.93 L1137.73,1959.31 L1139.52,1960.67 L1141.30,1962.01 L1143.09,1963.33 L1144.87,1964.64 L1146.66,1965.92 L1148.44,1967.20 L1150.23,1968.45 L1152.01,1969.69" fill="none" stroke="#000" stroke-width="3.0" stroke-dasharray="11.40 6.70 11.40 6.70 11.10 7.00 11.50 6.80 11.50 6.80 11.20 7.60 11.20 7.40 10.80 7.50 10.90 8.30 10.60 8.60 11.30 7.90 10.80 7.80 11.30 8.40 11.00 8.30 11.50 7.60 12.50 9.20 11.90 9.60 11.80 8.90 12.40 6.10 12.40 6.10 12.40 6.20 12.40 6.10 12.40 8.70 13.20 6.90 2.10 50.00"/><path d="M682.4,2016.6 L754.2,1890.7 L827.7,1694.2 L900.6,1608.5 L973.0,1762.1 L1050.0,1872.0 L1128.8,1937.6" fill="none" stroke="#008000" stroke-width="3.05" stroke-linejoin="round"/><path d="M671.4,2091.0 L749.7,2072.7 L821.5,2006.8 L894.0,1875.7 L966.7,1784.3 L1039.2,1867.6" fill="none" stroke="#ff0000" stroke-width="3.45" stroke-linejoin="round"/><path d="M673.1,2089.9 L750.8,2082.3 L825.7,2052.8 L899.0,1972.4 L972.9,1872.0 L1047.2,1874.4 L1126.0,1935.4" fill="none" stroke="#9620dc" stroke-width="3.05" stroke-linejoin="round"/><path d="M688.0,2089.9 L762.4,2070.0 L836.5,2016.9 L908.9,1916.0 L982.0,1840.7 L1056.4,1888.0 L1131.6,1940.4" fill="none" stroke="#7a0000" stroke-width="3.25" stroke-linejoin="round"/><path d="M694.6,2058.5 L769.3,1952.6 L845.0,1748.3 L920.6,1650.8 L993.2,1791.9 L1066.6,1895.0 L1142.8,1956.1" fill="none" stroke="#56575a" stroke-width="3.05" stroke-linejoin="round"/><path d="M675.0,2071.9 L748.2,1996.8 L826.7,1817.0 L900.2,1649.7 L971.9,1750.3 L1046.0,1866.0 L1121.0,1937.0" fill="none" stroke="#ef6914" stroke-width="2.85" stroke-linejoin="round"/><path d="M685.4,2062.2 L761.1,1970.5 L835.1,1807.6 L908.2,1663.5 L983.1,1788.7 L1057.3,1880.4 L1133.7,1944.7" fill="none" stroke="#ffd54a" stroke-width="3.05" stroke-linejoin="round"/><path d="M654.4,2084.8 L726.9,2044.2 L800.2,1932.4 L872.0,1746.5 L944.0,1703.3 L1018.4,1833.5 L1097.1,1915.9" fill="none" stroke="#000000" stroke-width="3.05" stroke-linejoin="round"/><path d="M672.0,2083.7 L742.0,2026.5 L815.7,1877.8 L888.8,1685.0 L962.6,1733.1 L1037.0,1857.4 L1116.0,1932.6" fill="none" stroke="#0000d6" stroke-width="3.05" stroke-linejoin="round"/><path d="M666.9,2084.3 L743.7,2035.5 L818.6,1902.4 L884.9,1709.5 L963.0,1718.8 L1041.1,1850.4 L1119.8,1932.3" fill="none" stroke="#00b0f0" stroke-width="3.05" stroke-linejoin="round"/><path d="M678.3,2079.2 L750.1,2024.5 L823.4,1901.2 L896.3,1739.7 L969.0,1756.7 L1043.0,1868.0 L1121.8,1937.6" fill="none" stroke="#ff0a6e" stroke-width="3.05" stroke-linejoin="round"/><path d="M672.3,2075.3 L746.3,1999.8 L821.7,1848.1 L894.2,1690.2 L967.9,1745.6 L1041.8,1869.4 L1119.0,1940.7" fill="none" stroke="#6688ff" stroke-width="3.25" stroke-linejoin="round"/><path d="M684.3,2070.8 L758.3,1994.6 L833.1,1839.9 L905.4,1697.5 L979.5,1771.0 L1053.2,1875.8 L1129.9,1945.9" fill="none" stroke="#7cfc20" stroke-width="3.05" stroke-linejoin="round"/><path d="M623.4,1563.3 L623.4,2092.3 L1151.9,2092.3" fill="none" stroke="#000" stroke-width="2.3"/><line x1="623.4" y1="1960.4" x2="631.4" y2="1960.4" stroke="#000" stroke-width="2.3"/><line x1="623.4" y1="1828.4" x2="631.4" y2="1828.4" stroke="#000" stroke-width="2.3"/><line x1="623.4" y1="1696.5" x2="631.4" y2="1696.5" stroke="#000" stroke-width="2.3"/><line x1="623.4" y1="1564.5" x2="631.4" y2="1564.5" stroke="#000" stroke-width="2.3"/><line x1="696.6" y1="2092.3" x2="696.6" y2="2084.3" stroke="#000" stroke-width="2.3"/><line x1="769.8" y1="2092.3" x2="769.8" y2="2084.3" stroke="#000" stroke-width="2.3"/><line x1="843.0" y1="2092.3" x2="843.0" y2="2084.3" stroke="#000" stroke-width="2.3"/><line x1="916.3" y1="2092.3" x2="916.3" y2="2084.3" stroke="#000" stroke-width="2.3"/><line x1="989.5" y1="2092.3" x2="989.5" y2="2084.3" stroke="#000" stroke-width="2.3"/><line x1="1062.7" y1="2092.3" x2="1062.7" y2="2084.3" stroke="#000" stroke-width="2.3"/><line x1="1135.9" y1="2092.3" x2="1135.9" y2="2084.3" stroke="#000" stroke-width="2.3"/><circle cx="682.4" cy="2016.6" r="4.85" fill="#008000"/><circle cx="754.2" cy="1890.7" r="4.85" fill="#008000"/><circle cx="827.7" cy="1694.2" r="4.85" fill="#008000"/><circle cx="900.6" cy="1608.5" r="4.85" fill="#008000"/><circle cx="973.0" cy="1762.1" r="4.85" fill="#008000"/><circle cx="1050.0" cy="1872.0" r="4.85" fill="#008000"/><circle cx="1128.8" cy="1937.6" r="4.85" fill="#008000"/><circle cx="671.4" cy="2091.0" r="4.85" fill="#ff0000"/><circle cx="749.7" cy="2072.7" r="4.85" fill="#ff0000"/><circle cx="821.5" cy="2006.8" r="4.85" fill="#ff0000"/><circle cx="894.0" cy="1875.7" r="4.85" fill="#ff0000"/><circle cx="966.7" cy="1784.3" r="4.85" fill="#ff0000"/><circle cx="1039.2" cy="1867.6" r="4.85" fill="#ff0000"/><circle cx="673.1" cy="2089.9" r="4.85" fill="#9620dc"/><circle cx="750.8" cy="2082.3" r="4.85" fill="#9620dc"/><circle cx="825.7" cy="2052.8" r="4.85" fill="#9620dc"/><circle cx="899.0" cy="1972.4" r="4.85" fill="#9620dc"/><circle cx="972.9" cy="1872.0" r="4.85" fill="#9620dc"/><circle cx="1047.2" cy="1874.4" r="4.85" fill="#9620dc"/><circle cx="1126.0" cy="1935.4" r="4.85" fill="#9620dc"/><circle cx="688.0" cy="2089.9" r="4.85" fill="#7a0000"/><circle cx="762.4" cy="2070.0" r="4.85" fill="#7a0000"/><circle cx="836.5" cy="2016.9" r="4.85" fill="#7a0000"/><circle cx="908.9" cy="1916.0" r="4.85" fill="#7a0000"/><circle cx="982.0" cy="1840.7" r="4.85" fill="#7a0000"/><circle cx="1056.4" cy="1888.0" r="4.85" fill="#7a0000"/><circle cx="1131.6" cy="1940.4" r="4.85" fill="#7a0000"/><circle cx="694.6" cy="2058.5" r="4.85" fill="#56575a"/><circle cx="769.3" cy="1952.6" r="4.85" fill="#56575a"/><circle cx="845.0" cy="1748.3" r="4.85" fill="#56575a"/><circle cx="920.6" cy="1650.8" r="4.85" fill="#56575a"/><circle cx="993.2" cy="1791.9" r="4.85" fill="#56575a"/><circle cx="1066.6" cy="1895.0" r="4.85" fill="#56575a"/><circle cx="1142.8" cy="1956.1" r="4.85" fill="#56575a"/><circle cx="675.0" cy="2071.9" r="4.85" fill="#ef6914"/><circle cx="748.2" cy="1996.8" r="4.85" fill="#ef6914"/><circle cx="826.7" cy="1817.0" r="4.85" fill="#ef6914"/><circle cx="900.2" cy="1649.7" r="4.85" fill="#ef6914"/><circle cx="971.9" cy="1750.3" r="4.85" fill="#ef6914"/><circle cx="1046.0" cy="1866.0" r="4.85" fill="#ef6914"/><circle cx="1121.0" cy="1937.0" r="4.85" fill="#ef6914"/><circle cx="685.4" cy="2062.2" r="4.85" fill="#ffd54a"/><circle cx="761.1" cy="1970.5" r="4.85" fill="#ffd54a"/><circle cx="835.1" cy="1807.6" r="4.85" fill="#ffd54a"/><circle cx="908.2" cy="1663.5" r="4.85" fill="#ffd54a"/><circle cx="983.1" cy="1788.7" r="4.85" fill="#ffd54a"/><circle cx="1057.3" cy="1880.4" r="4.85" fill="#ffd54a"/><circle cx="1133.7" cy="1944.7" r="4.85" fill="#ffd54a"/><circle cx="654.4" cy="2084.8" r="4.85" fill="#000000"/><circle cx="726.9" cy="2044.2" r="4.85" fill="#000000"/><circle cx="800.2" cy="1932.4" r="4.85" fill="#000000"/><circle cx="872.0" cy="1746.5" r="4.85" fill="#000000"/><circle cx="944.0" cy="1703.3" r="4.85" fill="#000000"/><circle cx="1018.4" cy="1833.5" r="4.85" fill="#000000"/><circle cx="1097.1" cy="1915.9" r="4.85" fill="#000000"/><circle cx="672.0" cy="2083.7" r="4.85" fill="#0000d6"/><circle cx="742.0" cy="2026.5" r="4.85" fill="#0000d6"/><circle cx="815.7" cy="1877.8" r="4.85" fill="#0000d6"/><circle cx="888.8" cy="1685.0" r="4.85" fill="#0000d6"/><circle cx="962.6" cy="1733.1" r="4.85" fill="#0000d6"/><circle cx="1037.0" cy="1857.4" r="4.85" fill="#0000d6"/><circle cx="1116.0" cy="1932.6" r="4.85" fill="#0000d6"/><circle cx="666.9" cy="2084.3" r="4.85" fill="#00b0f0"/><circle cx="743.7" cy="2035.5" r="4.85" fill="#00b0f0"/><circle cx="818.6" cy="1902.4" r="4.85" fill="#00b0f0"/><circle cx="884.9" cy="1709.5" r="4.85" fill="#00b0f0"/><circle cx="963.0" cy="1718.8" r="4.85" fill="#00b0f0"/><circle cx="1041.1" cy="1850.4" r="4.85" fill="#00b0f0"/><circle cx="1119.8" cy="1932.3" r="4.85" fill="#00b0f0"/><circle cx="678.3" cy="2079.2" r="4.85" fill="#ff0a6e"/><circle cx="750.1" cy="2024.5" r="4.85" fill="#ff0a6e"/><circle cx="823.4" cy="1901.2" r="4.85" fill="#ff0a6e"/><circle cx="896.3" cy="1739.7" r="4.85" fill="#ff0a6e"/><circle cx="969.0" cy="1756.7" r="4.85" fill="#ff0a6e"/><circle cx="1043.0" cy="1868.0" r="4.85" fill="#ff0a6e"/><circle cx="1121.8" cy="1937.6" r="4.85" fill="#ff0a6e"/><circle cx="672.3" cy="2075.3" r="4.85" fill="#6688ff"/><circle cx="746.3" cy="1999.8" r="4.85" fill="#6688ff"/><circle cx="821.7" cy="1848.1" r="4.85" fill="#6688ff"/><circle cx="894.2" cy="1690.2" r="4.85" fill="#6688ff"/><circle cx="967.9" cy="1745.6" r="4.85" fill="#6688ff"/><circle cx="1041.8" cy="1869.4" r="4.85" fill="#6688ff"/><circle cx="1119.0" cy="1940.7" r="4.85" fill="#6688ff"/><circle cx="684.3" cy="2070.8" r="4.85" fill="#7cfc20"/><circle cx="758.3" cy="1994.6" r="4.85" fill="#7cfc20"/><circle cx="833.1" cy="1839.9" r="4.85" fill="#7cfc20"/><circle cx="905.4" cy="1697.5" r="4.85" fill="#7cfc20"/><circle cx="979.5" cy="1771.0" r="4.85" fill="#7cfc20"/><circle cx="1053.2" cy="1875.8" r="4.85" fill="#7cfc20"/><circle cx="1129.9" cy="1945.9" r="4.85" fill="#7cfc20"/><text x="610.2" y="2098.3" text-anchor="end" class="t">0</text><text x="610.2" y="1966.4" text-anchor="end" class="t">500</text><text x="610.2" y="1834.4" text-anchor="end" class="t">1000</text><text x="610.2" y="1702.5" text-anchor="end" class="t">1500</text><text x="610.2" y="1570.5" text-anchor="end" class="t">2000</text><text x="623.4" y="2120.3" text-anchor="middle" class="t">250</text><text x="696.6" y="2120.3" text-anchor="middle" class="t">300</text><text x="769.8" y="2120.3" text-anchor="middle" class="t">350</text><text x="843.0" y="2120.3" text-anchor="middle" class="t">400</text><text x="916.3" y="2120.3" text-anchor="middle" class="t">450</text><text x="989.5" y="2120.3" text-anchor="middle" class="t">500</text><text x="1062.7" y="2120.3" text-anchor="middle" class="t">550</text><text x="1135.9" y="2120.3" text-anchor="middle" class="t">600</text><text x="887.6" y="2178.3" text-anchor="middle" class="ti" textLength="207.3" lengthAdjust="spacingAndGlyphs">Temperature (°C)</text><text transform="translate(517.6,1828.4) rotate(-90)" x="0" y="0" text-anchor="middle" class="ti" textLength="354.6" lengthAdjust="spacingAndGlyphs">Ammonia concentration (ppm)</text><text x="489.3" y="1527.6" class="pl">(E)</text></g>
</svg>
</body></html>
